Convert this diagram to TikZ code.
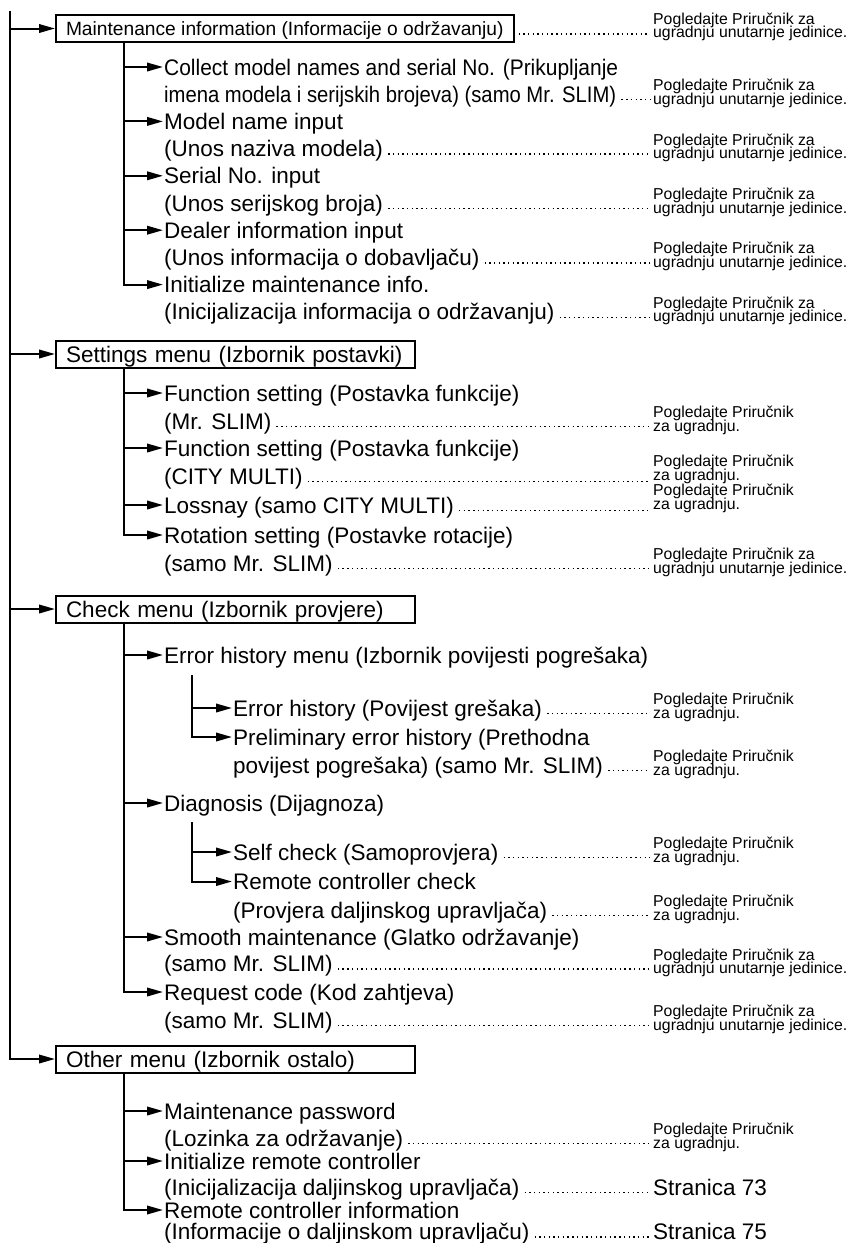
\documentclass[tikz,border=0pt]{standalone}
\usepackage{fontspec}
\setmainfont{Liberation Sans}
\usepackage{graphicx}
\usetikzlibrary{arrows.meta}
% two-line page reference, baseline on its last line
\newcommand{\pgl}[2]{\vbox{\lineskiplimit=-100pt\baselineskip=13.5pt\hbox{#1}\hbox{#2}}}
\newcommand{\refL}{\pgl{Pogledajte Priručnik za}{ugradnju unutarnje jedinice.}}
\newcommand{\refS}{\pgl{Pogledajte Priručnik}{za ugradnju.}}
\newcommand{\sqz}[2]{\resizebox{#1}{\height}{#2}}
\newcommand{\dotlead}[2]{\draw[leaderdots] ([xshift=4pt,yshift=-5.5pt]#1.east) -- ([xshift=-3pt,yshift=-5.5pt]#1.east -| #2.west);}

\begin{document}
\begin{tikzpicture}[x=1pt, y=-1pt,
    treeline/.style={line width=2pt},
    treearr/.style={treeline, -{Triangle[length=16pt,width=8.5pt]}},
    menubox/.style={draw, line width=2pt, anchor=west, inner xsep=10pt, inner ysep=0pt,
          minimum height=27pt, text height=16pt, text depth=0pt,
          font=\fontsize{22.5}{27}\selectfont},
    widebox/.style={text width=339pt, align=left},
    itemtxt/.style={anchor=base west, inner xsep=1pt, inner ysep=0pt, text height=16pt,
          text depth=0pt, font=\fontsize{22.5}{27}\selectfont},
    reftxt/.style={anchor=base west, inner sep=0pt, yshift=-2pt, font=\fontsize{15.8}{13.5}\selectfont},
    pagetxt/.style={anchor=base west, inner sep=0pt, font=\fontsize{22.5}{27}\selectfont},
    leaderdots/.style={line width=1.4pt, dash pattern=on 1.4pt off 3.3pt}]
  \useasboundingbox (0,0) rectangle (849,1243);
  \coordinate (root) at (10,11);
  \coordinate (tx) at (124,0);

  % Maintenance information
  \node[menubox, text height=14pt, font=\fontsize{19.2}{23}\selectfont] (mi) at (55,28.5)
       {Maintenance information (Informacije o održavanju)};
  \node[reftxt] (rmi) at (653,35.5) {\refL};
  \node[itemtxt] (c1) at (163,75) {\sqz{454pt}{Collect model names and serial No. (Prikupljanje}};
  \node[itemtxt] (c1b) at (163,102.2) {\sqz{452pt}{imena modela i serijskih brojeva) (samo Mr. SLIM)}};
  \node[reftxt] (rc1) at (653,102.2) {\refL};
  \node[itemtxt] (c2) at (163,129.4) {Model name input};
  \node[itemtxt] (c2b) at (163,156.6) {(Unos naziva modela)};
  \node[reftxt] (rc2) at (653,156.6) {\refL};
  \node[itemtxt] (c3) at (163,183.8) {Serial No. input};
  \node[itemtxt] (c3b) at (163,211) {(Unos serijskog broja)};
  \node[reftxt] (rc3) at (653,211) {\refL};
  \node[itemtxt] (c4) at (163,238.2) {Dealer information input};
  \node[itemtxt] (c4b) at (163,265.4) {(Unos informacija o dobavljaču)};
  \node[reftxt] (rc4) at (653,265.4) {\refL};
  \node[itemtxt] (c5) at (163,292.6) {Initialize maintenance info.};
  \node[itemtxt] (c5b) at (163,319.8) {(Inicijalizacija informacija o održavanju)};
  \node[reftxt] (rc5) at (653,319.8) {\refL};

  % Settings menu
  \node[menubox, widebox] (sm) at (55,354) {Settings menu (Izbornik postavki)};
  \node[itemtxt] (s1) at (163,401) {Function setting (Postavka funkcije)};
  \node[itemtxt] (s1b) at (163,429) {(Mr. SLIM)};
  \node[reftxt] (rs1) at (653,429) {\refS};
  \node[itemtxt] (s2) at (163,456) {Function setting (Postavka funkcije)};
  \node[itemtxt] (s2b) at (163,484) {(CITY MULTI)};
  \node[reftxt, yshift=6pt] (rs2) at (653,484) {\refS};
  \node[itemtxt] (s3) at (163,513) {Lossnay (samo CITY MULTI)};
  \node[reftxt, yshift=6pt] (rs3) at (653,513) {\refS};
  \node[itemtxt] (s4) at (163,543) {Rotation setting (Postavke rotacije)};
  \node[itemtxt] (s4b) at (163,571) {(samo Mr. SLIM)};
  \node[reftxt] (rs4) at (653,571) {\refL};

  % Check menu
  \node[menubox, widebox] (cm) at (55,609) {Check menu (Izbornik provjere)};
  \node[itemtxt] (k1) at (163,663) {Error history menu (Izbornik povijesti pogrešaka)};
  \coordinate (hs) at (192,675);
  \node[itemtxt] (k11) at (232,716) {Error history (Povijest grešaka)};
  \node[reftxt] (rk11) at (653,716) {\refS};
  \node[itemtxt] (k12) at (232,745) {Preliminary error history (Prethodna};
  \node[itemtxt] (k12b) at (232,773) {povijest pogrešaka) (samo Mr. SLIM)};
  \node[reftxt] (rk12) at (653,773) {\refS};
  \node[itemtxt] (k2) at (163,811) {Diagnosis (Dijagnoza)};
  \coordinate (ds) at (192,822);
  \node[itemtxt] (k21) at (232,860) {Self check (Samoprovjera)};
  \node[reftxt] (rk21) at (653,860) {\refS};
  \node[itemtxt] (k22) at (232,889.5) {Remote controller check};
  \node[itemtxt] (k22b) at (232,918) {(Provjera daljinskog upravljača)};
  \node[reftxt] (rk22) at (653,918) {\refS};
  \node[itemtxt] (k3) at (163,945) {Smooth maintenance (Glatko održavanje)};
  \node[itemtxt] (k3b) at (163,971.5) {(samo Mr. SLIM)};
  \node[reftxt] (rk3) at (653,971.5) {\refL};
  \node[itemtxt] (k4) at (163,1000) {Request code (Kod zahtjeva)};
  \node[itemtxt] (k4b) at (163,1028) {(samo Mr. SLIM)};
  \node[reftxt] (rk4) at (653,1028) {\refL};

  % Other menu
  \node[menubox, widebox] (om) at (55,1059) {Other menu (Izbornik ostalo)};
  \node[itemtxt] (o1) at (163,1119) {Maintenance password};
  \node[itemtxt] (o1b) at (163,1146) {(Lozinka za održavanje)};
  \node[reftxt] (ro1) at (653,1146) {\refS};
  \node[itemtxt] (o2) at (163,1169) {Initialize remote controller};
  \node[itemtxt] (o2b) at (163,1195) {(Inicijalizacija daljinskog upravljača)};
  \node[pagetxt] (ro2) at (653,1195) {Stranica 73};
  \node[itemtxt] (o3) at (163,1218) {Remote controller information};
  \node[itemtxt] (o3b) at (163,1239.5) {(Informacije o daljinskom upravljaču)};
  \node[pagetxt] (ro3) at (653,1239.5) {Stranica 75};

  % tree lines
  \draw[treearr] (root) |- (om.west);
  \foreach \n in {mi,sm,cm} \draw[treearr] (root |- \n.west) -- (\n.west);
  \draw[treearr] (mi.south -| tx) |- (c5.west);
  \foreach \n in {c1,c2,c3,c4} \draw[treearr] (\n.west -| tx) -- (\n.west);
  \draw[treearr] (sm.south -| tx) |- (s4.west);
  \foreach \n in {s1,s2,s3} \draw[treearr] (\n.west -| tx) -- (\n.west);
  \draw[treearr] (cm.south -| tx) |- (k4.west);
  \foreach \n in {k1,k2,k3} \draw[treearr] (\n.west -| tx) -- (\n.west);
  \draw[treearr] (hs) |- (k12.west);
  \draw[treearr] (hs |- k11.west) -- (k11.west);
  \draw[treearr] (ds) |- (k22.west);
  \draw[treearr] (ds |- k21.west) -- (k21.west);
  \draw[treearr] (om.south -| tx) |- (o3.west);
  \foreach \n in {o1,o2} \draw[treearr] (\n.west -| tx) -- (\n.west);

  % dotted leaders
  \foreach \a/\b in {mi/rmi,c1b/rc1,c2b/rc2,c3b/rc3,c4b/rc4,c5b/rc5,s1b/rs1,s2b/rs2,s3/rs3,
      s4b/rs4,k11/rk11,k12b/rk12,k21/rk21,k22b/rk22,k3b/rk3,k4b/rk4,o1b/ro1,o2b/ro2,o3b/ro3}
    {\dotlead{\a}{\b}}
\end{tikzpicture}
\end{document}
